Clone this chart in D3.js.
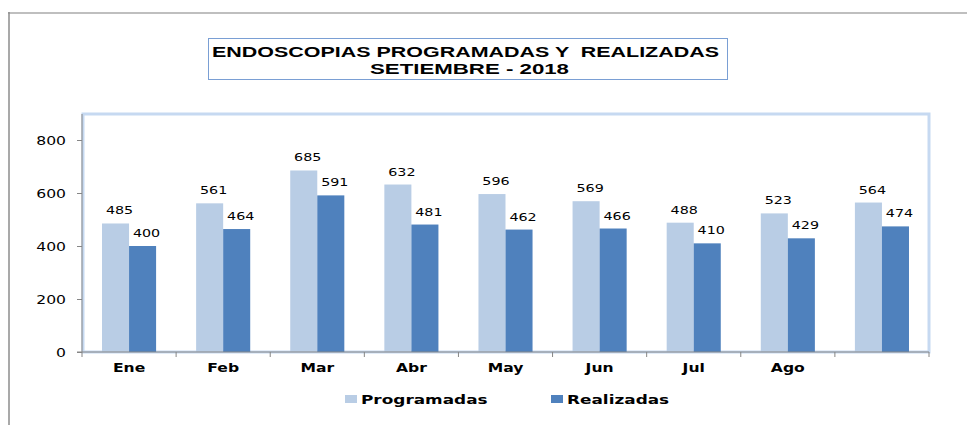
<!DOCTYPE html>
<html>
<head>
<meta charset="utf-8">
<script src="https://cdn.jsdelivr.net/npm/d3@7"></script>
<style>
  body { margin: 0; background: #fff; }
  svg { display: block; }
  text { font-family: "DejaVu Sans", Verdana, sans-serif; fill: #000; }
</style>
</head>
<body>
<svg id="chart" width="967" height="425"></svg>
<script>
const months = ["Ene", "Feb", "Mar", "Abr", "May", "Jun", "Jul", "Ago", ""];
const programadas = [485, 561, 685, 632, 596, 569, 488, 523, 564];
const realizadas = [400, 464, 591, 481, 462, 466, 410, 429, 474];
const seriesNames = ["Programadas", "Realizadas"];
const seriesColors = ["#b9cde5", "#4f81bd"];
const yTicks = [0, 200, 400, 600, 800];
const titleLines = ["ENDOSCOPIAS PROGRAMADAS Y  REALIZADAS", "SETIEMBRE - 2018"];

const svg = d3.select("#chart");
const plot = { left: 82, right: 929, top: 114, bottom: 352 };
const SX = 1.3; // wide text like the original

// outer frame
svg.append("line").attr("x1", 8).attr("x2", 967).attr("y1", 13).attr("y2", 13)
  .attr("stroke", "#bfbfbf").attr("stroke-width", 2);
svg.append("line").attr("x1", 9).attr("x2", 9).attr("y1", 12).attr("y2", 425)
  .attr("stroke", "#8c8c8c").attr("stroke-width", 1.5);

// title box
svg.append("rect").attr("x", 208.5).attr("y", 38.5).attr("width", 519).attr("height", 41)
  .attr("fill", "#fff").attr("stroke", "#7a9fd4").attr("stroke-width", 1);
const titleInfo = [{ x: 465.5, y: 57, len: 507 }, { x: 469.5, y: 73.5, len: 199 }];
titleLines.forEach((t, i) => {
  svg.append("text")
    .attr("x", titleInfo[i].x).attr("y", titleInfo[i].y)
    .attr("text-anchor", "middle")
    .attr("textLength", titleInfo[i].len)
    .attr("lengthAdjust", "spacingAndGlyphs")
    .style("white-space", "pre")
    .style("font-family", "'Liberation Sans', Arial, sans-serif")
    .style("font-weight", "bold").style("font-size", "15.5px")
    .text(t);
});

// plot area box
svg.append("rect")
  .attr("x", plot.left + 1).attr("y", plot.top)
  .attr("width", plot.right - plot.left - 1).attr("height", plot.bottom - plot.top)
  .attr("fill", "#fff").attr("stroke", "#c6d9f1").attr("stroke-width", 3);

const x0 = d3.scaleBand().domain(d3.range(months.length))
  .range([plot.left, plot.right]).paddingInner(0).paddingOuter(0);
const x1 = d3.scaleBand().domain(seriesNames)
  .range([0, x0.bandwidth()]).paddingInner(0).paddingOuter(0.74);
const y = d3.scaleLinear().domain([0, 800]).range([plot.bottom, 140]);

const data = months.map((m, i) => ({ i, m, vals: [programadas[i], realizadas[i]] }));

// bars
const groups = svg.append("g").selectAll("g").data(data).join("g")
  .attr("transform", d => `translate(${x0(d.i)},0)`);

groups.selectAll("rect")
  .data(d => d.vals.map((v, k) => ({ v, k })))
  .join("rect")
  .attr("x", d => x1(seriesNames[d.k]))
  .attr("y", d => y(d.v))
  .attr("width", x1.bandwidth())
  .attr("height", d => y(0) - y(d.v))
  .attr("fill", d => seriesColors[d.k]);

groups.selectAll("text")
  .data(d => d.vals.map((v, k) => ({ v, k })))
  .join("text")
  .attr("transform", d => `translate(${x1(seriesNames[d.k]) + x1.bandwidth() / 2 + 4},${y(d.v) - 9}) scale(${SX},1)`)
  .attr("text-anchor", "middle")
  .style("font-size", "11px")
  .text(d => d.v);

// y axis
const yAxis = svg.append("g")
  .attr("transform", `translate(${plot.left},0)`)
  .call(d3.axisLeft(y).tickValues(yTicks).tickSize(5).tickPadding(0));
yAxis.select(".domain").attr("stroke", "#868686")
  .attr("d", `M0,${plot.top}V${plot.bottom}`);
yAxis.selectAll(".tick line").attr("stroke", "#868686");
yAxis.selectAll(".tick text")
  .attr("x", null).attr("dy", null)
  .attr("transform", `translate(-16,4.5) scale(${SX},1)`)
  .style("font-size", "12px");

// x axis
const xAxis = svg.append("g")
  .attr("transform", `translate(0,${plot.bottom})`)
  .call(d3.axisBottom(x0).tickValues([]).tickSizeOuter(0));
xAxis.select(".domain").attr("stroke", "#868686")
  .attr("d", `M${plot.left - 5},0H${plot.right}`);
const bounds = d3.range(months.length + 1).map(i => plot.left + i * x0.step());
xAxis.selectAll(".bound").data(bounds).join("line")
  .attr("x1", d => d).attr("x2", d => d).attr("y1", 0).attr("y2", 5)
  .attr("stroke", "#868686");
xAxis.selectAll(".cat").data(data).join("text")
  .attr("transform", d => `translate(${x0(d.i) + x0.bandwidth() / 2},20) scale(${SX},1)`)
  .attr("text-anchor", "middle")
  .style("font-size", "12px").style("font-weight", "bold")
  .text(d => d.m);

// legend
const legendX = [345, 551];
const legend = svg.append("g").selectAll("g").data(seriesNames).join("g")
  .attr("transform", (d, i) => `translate(${legendX[i]},395)`);
legend.append("rect").attr("width", 12).attr("height", 8)
  .attr("fill", (d, i) => seriesColors[i]);
legend.append("text")
  .attr("transform", `translate(16,8.5) scale(${SX},1)`)
  .style("font-size", "13px").style("font-weight", "bold")
  .text(d => d);
</script>
</body>
</html>
